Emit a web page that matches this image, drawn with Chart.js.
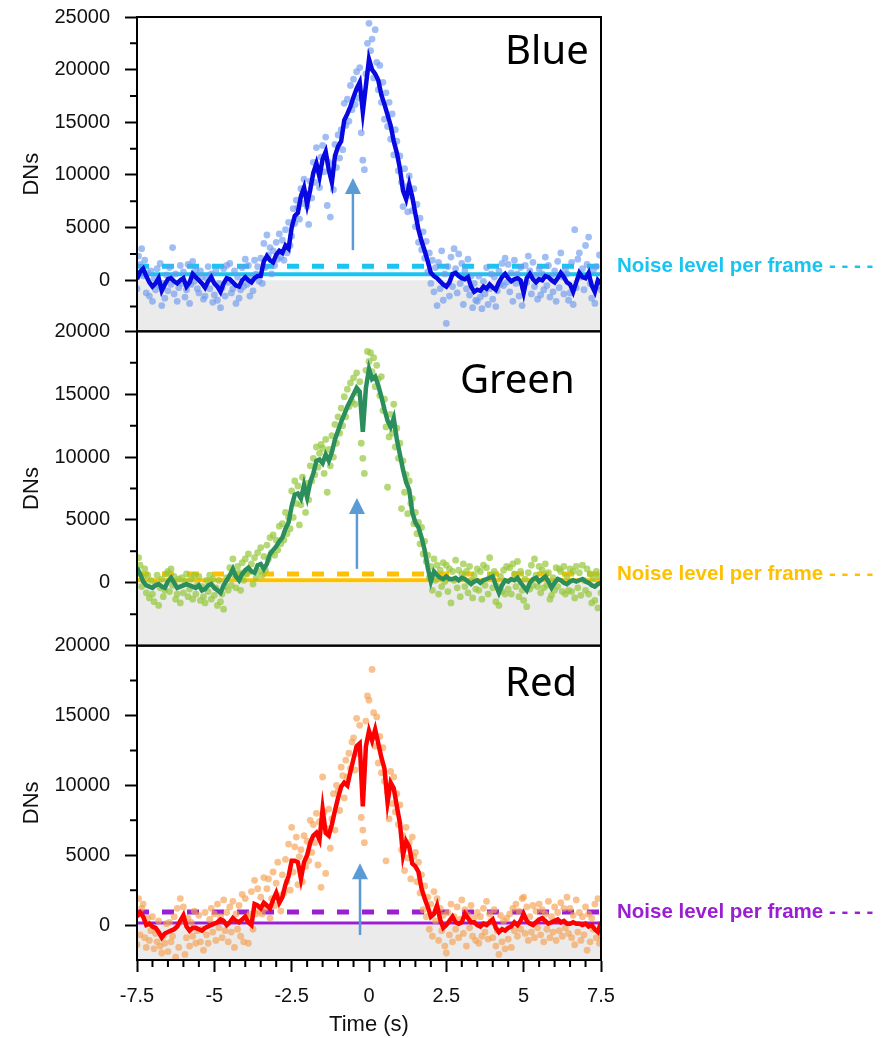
<!DOCTYPE html>
<html>
<head>
<meta charset="utf-8">
<title>DNs over time, blue / green / red</title>
<script src="https://cdn.jsdelivr.net/npm/chart.js@4.4.1/dist/chart.umd.min.js"></script>
<style>
  body { margin: 0; background: #fff; }
  #wrap { width: 885px; height: 1038px; }
</style>
</head>
<body>
<div id="wrap"><canvas id="flash" width="885" height="1038"></canvas></div>
<script>
// frame times: first frame and spacing of the smoothed curve and of the raw frames
const startT = -7.5;
const lineStep = 0.1;
const dotStep = 0.05;

// smoothed curves (DN), one value every 0.1 s from -7.5 to 7.5
const blueLine = [
  100, 800, 1100, 400, -200, -600, -300, 200, -1000, -400,
  100, 200, -100, -300, 0, 200, -600, -200, 600, 300,
  0, -300, -700, -100, 300, -300, -600, -1100, -300, 200,
  100, -200, -500, -600, 0, 300, 0, -200, 200, 400,
  400, 1800, 2300, 1900, 1700, 2400, 2800, 2600, 3300, 3000,
  5000, 6100, 6400, 8000, 8800, 7200, 8600, 10200, 11100, 9800,
  11500, 12200, 10500, 9300, 11800, 12700, 13200, 15200, 15800, 16500,
  17400, 18200, 18800, 16000, 18500, 21000, 20000, 19600, 19000, 17600,
  16700, 15700, 14700, 13200, 12100, 10600, 8500, 7700, 9100, 7900,
  6300, 4800, 3700, 2800, 1800, 700, 400, 200, -100, -400,
  -600, -200, 600, 700, 400, 200, 100, 300, -600, -1100,
  -900, -1000, -600, -800, -400, -700, -900, -200, 300, 600,
  200, -100, 100, 200, 0, -1200, 200, 600, 100, -200,
  100, 0, 400, 300, 0, -200, 200, 700, 300, -200,
  -400, -1100, -200, 700, 300, 200, 700, -500, -1100, 0,
  -300
];
const greenLine = [
  1200, 700, 100, -200, -300, -400, -200, -100, -300, -400,
  100, 400, 0, -400, -300, -200, -100, -200, -300, -400,
  -200, -600, -500, -200, -100, -400, -600, -800, -200, 200,
  600, 1100, 500, 200, 700, 1000, 1200, 900, 800, 1400,
  1500, 1100, 1500, 2300, 2600, 2900, 3300, 3600, 4300, 4800,
  6100, 7000, 7100, 6700, 7800, 6800, 8000, 8700, 9700, 9800,
  9500, 10200, 9700, 10400, 11400, 12100, 12800, 13400, 14000, 14500,
  15000, 15500, 15200, 12000, 15500, 17000, 16200, 16400, 15700, 14800,
  13800, 12900, 12400, 13100, 11400, 10200, 9000, 8000, 7400, 5600,
  4800, 4400, 3600, 2600, 1200, 100, 900, 600, 400, 300,
  500, 300, 300, 400, 200, 400, 300, 100, -100, 100,
  200, 0, 200, 300, 400, 500, -200, -800, -200, 200,
  100, 300, 200, 400, 0, -300, -600, 0, 300, 400,
  100, 300, 500, 100, -400, 0, 300, 200, 0, -100,
  100, 200, 100, 200, 300, 100, 0, -200, -300, -100,
  0
];
const redLine = [
  600, 900, 600, 0, 100, -100, -200, -500, -900, -600,
  -500, -400, -300, -100, 300, 700, -100, -400, -200, -200,
  -300, -400, -200, -100, 0, 100, 200, 400, 300, 0,
  200, 500, 300, 200, 400, 600, 200, 0, 1500, 1400,
  1200, 1600, 1400, 1200, 1800, 2300, 1600, 2000, 2900, 3500,
  4600, 4600, 4500, 3300, 4500, 5000, 5900, 6400, 6600, 6100,
  8300, 6600, 6400, 7200, 8200, 9100, 9900, 10200, 10000, 11000,
  11900, 12800, 13000, 8500, 12800, 13900, 13200, 14000, 13000, 12000,
  11200, 8800, 10200, 9800, 8500, 7300, 5000, 6000, 5600, 4400,
  4200, 3800, 2600, 1900, 1300, 600, 800, 1400, 400, -200,
  0, 300, 600, 200, 100, 200, 800, 500, 200, 200,
  0, -100, 100, 0, 200, 400, -200, -500, -300, -400,
  -200, -100, 200, 0, 300, 800, 300, 100, 0, 200,
  400, 500, 300, 100, 200, 300, 400, 200, 300, 100,
  100, 200, 100, 100, 0, 100, -100, 0, -300, -500,
  200
];

// raw frames (DN), one value every 0.05 s from -7.5 to 7.5
const blueDots = [
  -800,2300,1500,3000,400,1900,-1200,700,-1500,900,-2000,200,-900,1100,-500,1600,-2400,-300,-1700,500,
  -1000,1200,-400,3100,-1300,600,-2000,-700,1400,-300,800,-1600,-900,1500,-2200,-400,1800,-100,1000,-800,
  -1200,900,300,-1800,-1500,200,1300,-800,600,-2100,-1400,900,-1900,-300,-2600,-700,1100,-1500,1400,-200,
  1600,-1200,-800,900,-2200,300,-1700,-900,1200,-600,2000,-400,1400,-1500,300,-1000,1900,600,1300,-100,
  2100,-300,3500,1200,4300,2400,3100,600,2800,1400,3600,2000,4400,2200,3800,1900,4800,2600,5500,3300,
  4200,6800,5400,7600,6900,5800,8700,7300,9600,8200,7000,5300,9400,7800,11200,9300,12600,10400,8800,11700,
  12800,10300,13600,7100,11200,6000,10000,8600,12900,10700,13800,11600,14300,12400,16800,14700,17200,15100,18500,16200,
  19100,16700,19800,17300,20200,14000,11400,10500,19600,22500,24400,21800,22900,19200,23800,20700,18100,20400,16900,18800,
  15300,17800,14600,16900,13400,15800,11900,14300,13200,10400,11800,9300,7000,10600,8900,6500,9900,8000,6600,8700,
  5100,7200,3600,5900,2900,4600,2100,3700,800,2600,-300,1900,-1100,1200,-2400,1700,-800,2800,-1900,600,
  -4100,1300,-1500,2200,-600,3000,1100,-1200,2500,-300,1600,-2300,900,-800,2000,-1400,400,-2600,-300,-1900,
  -2000,400,-1600,-2700,-100,-1300,1200,-2300,-800,600,-1800,300,-2500,-1000,900,-400,1600,-500,2100,-200,
  1500,-1100,700,-2000,1900,-300,600,-1500,1200,-2400,-700,1400,-200,2300,900,-1300,1700,-600,500,-1800,
  1100,-1400,600,-900,2200,-500,1400,-1600,400,-1100,900,-2000,1800,-700,2600,300,-1300,1000,600,-1900,
  -1200,1700,-2300,4800,-700,2000,2600,300,1100,-900,3300,1500,4100,-300,-1700,900,-2200,1300,-600,2400,
  -900
];
const greenDots = [
  800,2000,1400,-300,500,1100,-800,600,-1200,200,-900,-1500,-100,600,-1800,-400,300,-1100,-600,700,
  900,-700,1100,-200,500,-1300,-900,300,-1600,400,-800,100,700,-1100,-500,300,-1300,600,-900,-200,
  500,-1400,-300,-1100,-1600,200,-700,600,-1300,300,-1000,-400,-1800,200,-1500,-900,-2100,-300,400,-600,
  1200,-200,1900,600,-400,1300,800,-600,1600,200,1900,700,2300,900,1500,-100,2000,400,2400,900,
  2800,600,2100,1000,3000,1900,3600,2400,3800,2200,3400,2600,4500,3100,4700,3400,5600,3900,5200,4300,
  7300,5200,8100,6300,7700,4600,6200,8400,7100,5600,7900,6600,9300,8100,9900,8600,10800,9200,10300,11000,
  10700,8700,11400,7200,10600,9300,11700,10000,12600,11100,13200,11900,13900,12500,14800,13200,15400,14000,15900,14400,
  16300,14200,16700,15100,16000,11100,9900,8700,16900,18400,17600,18300,16800,17900,15600,17300,16200,14900,16400,13700,
  14600,12400,7600,11600,13400,11900,14200,10800,12300,9900,11100,5900,9700,7200,8600,5500,8100,6300,6700,4700,
  5600,3900,4800,3100,4400,2300,3300,1700,2200,400,1300,-600,1900,200,1400,-900,1000,-300,1600,100,
  1400,-700,1100,-1600,900,200,1800,-400,1000,-1100,700,1500,-300,900,-800,1300,200,-1200,600,-500,
  1100,-600,900,-1300,1400,-200,1200,-900,2000,600,-400,900,-1500,-300,-1800,500,-700,1000,-900,1300,
  -500,1200,-900,1500,700,-300,1700,-1100,900,-600,-1400,300,-1900,800,-500,1400,-200,1900,600,-300,
  1300,-800,1000,-400,1500,-200,800,-1300,-1000,400,-600,1200,-300,1100,900,-700,1300,-900,500,-600,
  1100,-700,900,-1200,1300,-400,800,-1000,1400,200,-600,1100,-900,700,-1600,400,-1400,900,-2000,500,
  -800
];
const redDots = [
  -1400,1900,-700,1200,1500,-900,-1600,500,-1100,-400,600,-1700,-600,-1200,300,-1500,-2000,-800,-1300,100,
  -1900,200,-1200,-800,600,-2300,1200,-1600,1900,300,1300,-2100,-900,500,-1500,200,-800,1000,-1300,-400,
  700,-1200,-300,-1800,900,-700,-1300,400,1200,-500,800,-1100,1500,-200,600,-900,1800,-400,900,-1200,
  1300,-500,1700,-1600,800,-300,1400,-800,2200,-1200,1900,600,-1300,800,2400,-300,3200,800,2600,1000,
  2000,800,3400,1200,2600,3300,500,1900,3800,1400,3000,4500,2100,1000,3600,2300,4700,3100,5800,2500,
  7000,3800,5600,6300,2900,4900,5400,3100,6400,4200,6000,4600,7500,5200,7200,5900,8000,4300,7400,2700,
  10600,8100,3700,6900,8300,5500,7600,9400,6800,10000,9600,8200,11300,10700,9100,11800,10600,12300,11200,13100,
  13400,11100,14800,12300,14300,7700,6800,5900,14600,16400,16100,13600,18300,15200,12800,14900,11600,13500,10900,12700,
  10300,4600,9500,7600,11000,8700,10600,8100,9400,7200,8600,5400,6400,3900,7000,4800,5900,3300,6300,4900,
  5200,3100,4500,2300,3600,1100,2800,600,2000,-300,1500,-800,2400,300,1900,-1100,1200,-400,700,-1500,
  -2000,900,-700,1500,-1200,600,-300,1300,-900,400,1800,-600,1100,-1500,700,-200,1400,-800,500,-1100,
  900,-1300,600,-800,1200,-500,1700,-1000,800,300,-900,1100,-1500,-400,-2100,700,-1200,300,-1700,500,
  -1000,800,-1600,1200,-400,1500,-800,1000,-300,1900,2000,-600,1300,-1100,600,-500,1400,-900,1000,-200,
  1500,-700,1100,-1200,800,-300,1700,-900,600,-500,1300,-1100,900,-400,1600,-800,1200,-200,2000,-600,
  1200,-900,700,-1400,1800,-500,900,-1100,600,-700,1300,-1800,800,-1200,500,-300,1500,-900,1900,-1300,
  -800
];

// noise: [mean level (solid), level per frame (dashed)]
const blueNoise = [570, 1330];
const greenNoise = [200, 700];
const redNoise = [140, 930];

// axes
const blueRange = [-4850, 25000];
const greenRange = [-5000, 20000];
const redRange = [-2500, 20000];
const blueTicks = [0, 5000, 10000, 15000, 20000, 25000];
const greenTicks = [0, 5000, 10000, 15000, 20000];
const redTicks = [0, 5000, 10000, 15000, 20000];
const blueMinor = [-2500, 2500, 7500, 12500, 17500, 22500];
const greenMinor = [-2500, 2500, 7500, 12500, 17500];
const redMinor = [2500, 7500, 12500, 17500];
const xTicks = [-7.5, -5, -2.5, 0, 2.5, 5, 7.5];
const xMinor = [-7, -6.5, -6, -5.5, -4.5, -4, -3.5, -3, -2, -1.5, -1, -0.5,
                0.5, 1, 1.5, 2, 3, 3.5, 4, 4.5, 5.5, 6, 6.5, 7];

// annotations: arrow time, arrow start / tip (DN); panel names
const arrowT = [-0.52, -0.39, -0.29];
const arrowFrom = [2860, 1110, -710];
const arrowTo = [9700, 6750, 4430];
const panelNames = ['Blue', 'Green', 'Red'];
const nameT = [4.4, 2.94, 4.4];
const nameV = [20500, 15100, 16400];

const toPoints = (vals, step) => vals.map((v, i) => ({ x: +(startT + i * step).toFixed(2), y: v }));
const flat = (v) => [{ x: -7.5, y: v }, { x: 7.5, y: v }];

Chart.defaults.font.family = '"Liberation Sans", Arial, sans-serif';
Chart.defaults.color = '#111';

const panels = [
  { axis: 'yB', line: blueLine, dots: blueDots, noise: blueNoise, range: blueRange, ticks: blueTicks, minor: blueMinor,
    lineColor: '#0808e0', dotColor: 'rgba(110,155,238,0.65)', noiseColor: '#18c4f0' },
  { axis: 'yG', line: greenLine, dots: greenDots, noise: greenNoise, range: greenRange, ticks: greenTicks, minor: greenMinor,
    lineColor: '#2a8f5c', dotColor: 'rgba(150,200,60,0.7)', noiseColor: '#ffc000' },
  { axis: 'yR', line: redLine, dots: redDots, noise: redNoise, range: redRange, ticks: redTicks, minor: redMinor,
    lineColor: '#ff0000', dotColor: 'rgba(245,160,80,0.65)', noiseColor: '#9a1ed2' },
];

const datasets = [];
panels.forEach((p, k) => {
  datasets.push({ type: 'line', data: toPoints(p.line, lineStep), yAxisID: p.axis, borderColor: p.lineColor,
    borderWidth: 4.5, pointRadius: 0, tension: 0, order: 1 });
  datasets.push({ type: 'scatter', data: toPoints(p.dots, dotStep), yAxisID: p.axis, backgroundColor: p.dotColor,
    borderWidth: 0, pointRadius: 3.4, order: 2 });
  datasets.push({ type: 'line', data: flat(p.noise[0]), yAxisID: p.axis, borderColor: p.noiseColor,
    borderWidth: k === 2 ? 3 : 4, pointRadius: 0, order: 3 });
  datasets.push({ type: 'line', data: flat(p.noise[1]), yAxisID: p.axis, borderColor: p.noiseColor,
    borderWidth: 5, borderDash: [12, 13], pointRadius: 0, order: 3 });
});

function yScale(p) {
  return {
    type: 'linear', position: 'left', stack: 'panels', stackWeight: 1,
    min: p.range[0], max: p.range[1],
    afterBuildTicks: s => { s.ticks = p.ticks.map(v => ({ value: v })); },
    afterFit: s => { s.width = 137; s.paddingTop = 0; s.paddingBottom = 0; },
    ticks: { font: { size: 20 }, color: '#111', padding: 15, callback: v => String(v) },
    grid: { drawOnChartArea: false, tickLength: 12, tickWidth: 2, tickColor: '#000' },
    border: { color: '#000', width: 2 },
    title: { display: true, text: 'DNs', font: { size: 22 }, color: '#111', padding: { top: 19 } },
  };
}

const panelDecor = {
  id: 'panelDecor',
  beforeDatasetsDraw(chart) {
    const { ctx, chartArea } = chart;
    ctx.save();
    ctx.fillStyle = '#ebebeb';
    panels.forEach(p => {
      const s = chart.scales[p.axis];
      const y0 = s.getPixelForValue(0);
      ctx.fillRect(chartArea.left, y0, chartArea.right - chartArea.left, s.bottom - y0);
    });
    ctx.restore();
  },
  afterDatasetsDraw(chart) {
    const { ctx, chartArea } = chart;
    const xs = chart.scales.x;
    ctx.save();
    // arrows
    panels.forEach((p, k) => {
      const s = chart.scales[p.axis];
      const px = xs.getPixelForValue(arrowT[k]);
      const y1 = s.getPixelForValue(arrowFrom[k]);
      const y2 = s.getPixelForValue(arrowTo[k]);
      ctx.strokeStyle = '#5b9bd5';
      ctx.fillStyle = '#5b9bd5';
      ctx.lineWidth = 2.5;
      ctx.beginPath();
      ctx.moveTo(px, y1);
      ctx.lineTo(px, y2 + 14);
      ctx.stroke();
      ctx.beginPath();
      ctx.moveTo(px, y2);
      ctx.lineTo(px - 8, y2 + 16);
      ctx.lineTo(px + 8, y2 + 16);
      ctx.closePath();
      ctx.fill();
    });
    // panel frames
    ctx.strokeStyle = '#000';
    ctx.lineWidth = 2;
    panels.forEach(p => {
      const s = chart.scales[p.axis];
      ctx.strokeRect(chartArea.left, s.top, chartArea.right - chartArea.left, s.bottom - s.top);
    });
    // minor ticks
    ctx.beginPath();
    panels.forEach(p => {
      const s = chart.scales[p.axis];
      p.minor.forEach(v => {
        const y = s.getPixelForValue(v);
        ctx.moveTo(chartArea.left - 7, y);
        ctx.lineTo(chartArea.left, y);
      });
    });
    xMinor.forEach(v => {
      const x = xs.getPixelForValue(v);
      ctx.moveTo(x, chartArea.bottom);
      ctx.lineTo(x, chartArea.bottom + 7);
    });
    ctx.stroke();
    // names and noise labels
    panels.forEach((p, k) => {
      const s = chart.scales[p.axis];
      ctx.fillStyle = '#000';
      ctx.font = '40px "Noto Sans", sans-serif';
      ctx.textAlign = 'left';
      ctx.textBaseline = 'alphabetic';
      ctx.fillText(panelNames[k], xs.getPixelForValue(nameT[k]), s.getPixelForValue(nameV[k]));
      ctx.fillStyle = p.noiseColor;
      ctx.font = 'bold 20.5px "Liberation Sans", Arial, sans-serif';
      ctx.textBaseline = 'middle';
      ctx.fillText('Noise level per frame - - - -', chartArea.right + 16, s.getPixelForValue(p.noise[1]));
    });
    ctx.restore();
  }
};

new Chart(document.getElementById('flash'), {
  data: { datasets },
  options: {
    responsive: false,
    animation: false,
    devicePixelRatio: 1,
    layout: { padding: { top: 17, right: 284, bottom: 0, left: 0 } },
    plugins: { legend: { display: false }, tooltip: { enabled: false } },
    scales: {
      x: {
        type: 'linear', min: -7.5, max: 7.5,
        afterBuildTicks: s => { s.ticks = xTicks.map(v => ({ value: v })); },
        afterFit: s => { s.height = 78; s.paddingLeft = 0; s.paddingRight = 0; },
        ticks: { font: { size: 20 }, color: '#111', padding: 12, maxRotation: 0, autoSkip: false, callback: v => String(v) },
        grid: { drawOnChartArea: false, tickLength: 12, tickWidth: 2, tickColor: '#000' },
        border: { color: '#000', width: 2 },
        title: { display: true, text: 'Time (s)', font: { size: 22 }, color: '#111', padding: { bottom: 0 } },
      },
      yR: yScale(panels[2]),
      yG: yScale(panels[1]),
      yB: yScale(panels[0]),
    }
  },
  plugins: [panelDecor]
});
</script>
</body>
</html>
